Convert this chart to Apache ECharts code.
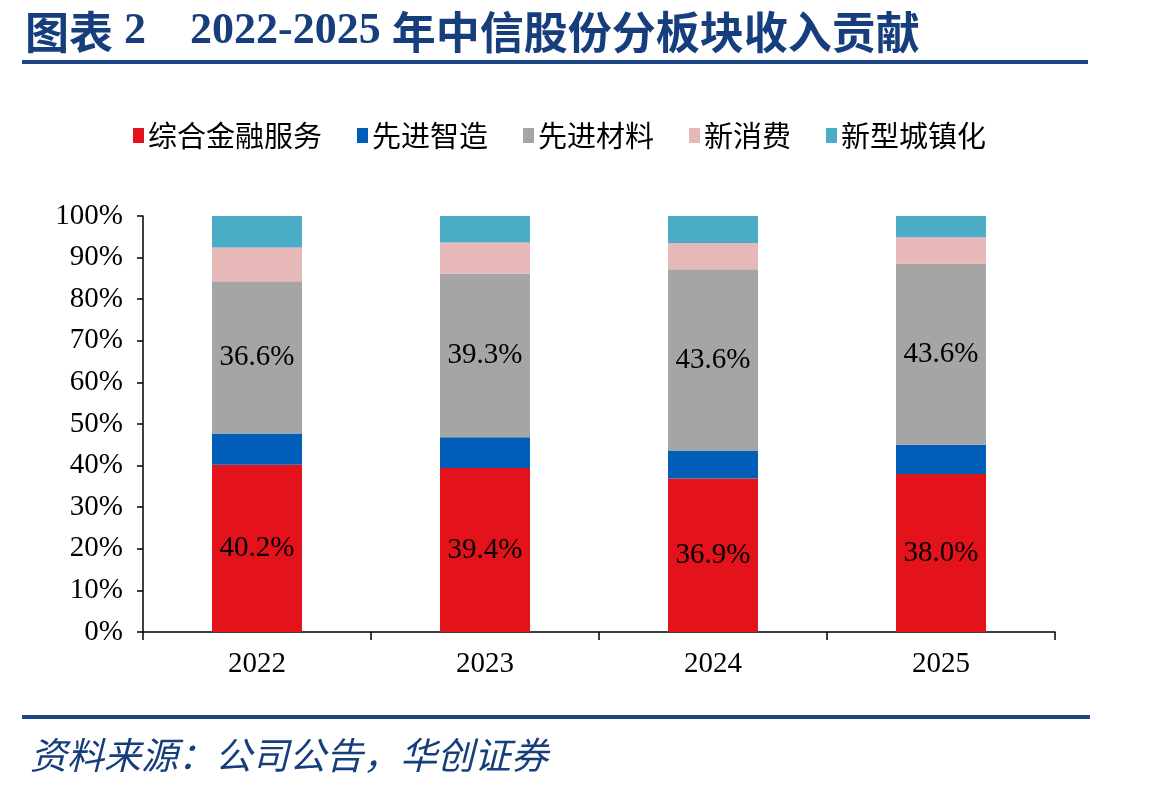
<!DOCTYPE html>
<html>
<head>
<meta charset="utf-8">
<script src="https://cdn.jsdelivr.net/npm/echarts@6/dist/echarts.min.js"></script>
<style>html,body{margin:0;padding:0;background:#fff}#c{width:1149px;height:792px}</style>
</head>
<body>
<div id="c"></div>
<script>
const categories = ['2022', '2023', '2024', '2025'];
const seriesNames = ['综合金融服务', '先进智造', '先进材料', '新消费', '新型城镇化'];
const finance = [40.2, 39.4, 36.9, 38.0];
const manufacturing = [7.5, 7.4, 6.7, 7.0];
const materials = [36.6, 39.3, 43.6, 43.6];
const consumption = [8.1, 7.5, 6.3, 6.3];
const urbanization = [7.6, 6.4, 6.5, 5.1];
const yTicks = [0, 10, 20, 30, 40, 50, 60, 70, 80, 90, 100];
const colors = ['#E3121B', '#005EB8', '#A5A5A5', '#E6B8B7', '#4BACC6'];
const labeled = [true, false, true, false, false];

const serif = '"Liberation Serif", "Times New Roman", serif';
const cjk = '"Noto Sans CJK SC", sans-serif';
const navy = '#173E7C';

const values = [finance, manufacturing, materials, consumption, urbanization];
const chart = echarts.init(document.getElementById('c'));
chart.setOption({
  animation: false,
  backgroundColor: '#fff',
  title: {
    left: 20, top: 5,
    text: '{a|图表}{b| 2    2022-2025 }{a|年中信股份分板块收入贡献}',
    textStyle: {
      rich: {
        a: { fontFamily: cjk, fontWeight: 'bold', fontSize: 44, color: navy },
        b: { fontFamily: serif, fontWeight: 'bold', fontSize: 44, color: navy }
      }
    }
  },
  graphic: [
    { type: 'rect', shape: { x: 22, y: 60, width: 1066, height: 4 }, style: { fill: '#1D4687' } },
    { type: 'rect', shape: { x: 22, y: 715, width: 1068, height: 4 }, style: { fill: '#1D4687' } },
    { type: 'text', left: 30, top: 736, style: { text: '资料来源：公司公告，华创证券', font: 'italic 37px "Noto Sans CJK SC", sans-serif', fill: navy } }
  ],
  legend: {
    left: 128, top: 116,
    itemWidth: 11, itemHeight: 15, itemGap: 35,
    icon: 'rect',
    textStyle: { fontFamily: cjk, fontSize: 29, color: '#000', padding: [0, 0, 0, -1] },
    data: seriesNames
  },
  grid: { left: 143, right: 94, top: 216, bottom: 160 },
  xAxis: {
    type: 'category', data: categories,
    axisLine: { lineStyle: { color: '#000', width: 1.5 } },
    axisTick: { show: true, length: 8, lineStyle: { color: '#000', width: 1.5 } },
    axisLabel: { fontFamily: serif, fontSize: 29, color: '#000', margin: 18 }
  },
  yAxis: {
    type: 'value', min: 0, max: 100, interval: 10,
    axisLine: { show: true, lineStyle: { color: '#000', width: 1.5 } },
    axisTick: { show: true, length: 6, lineStyle: { color: '#000', width: 1.5 } },
    splitLine: { show: false },
    axisLabel: { fontFamily: serif, fontSize: 29, color: '#000', margin: 20,
      formatter: v => yTicks.includes(v) ? v + '%' : '' }
  },
  series: seriesNames.map((n, i) => ({
    name: n, type: 'bar', stack: 'total', barWidth: 90,
    data: values[i],
    itemStyle: { color: colors[i] },
    label: {
      show: labeled[i], position: 'inside', color: '#000',
      fontFamily: serif, fontSize: 29,
      formatter: p => p.value.toFixed(1) + '%'
    }
  }))
});
</script>
</body>
</html>
